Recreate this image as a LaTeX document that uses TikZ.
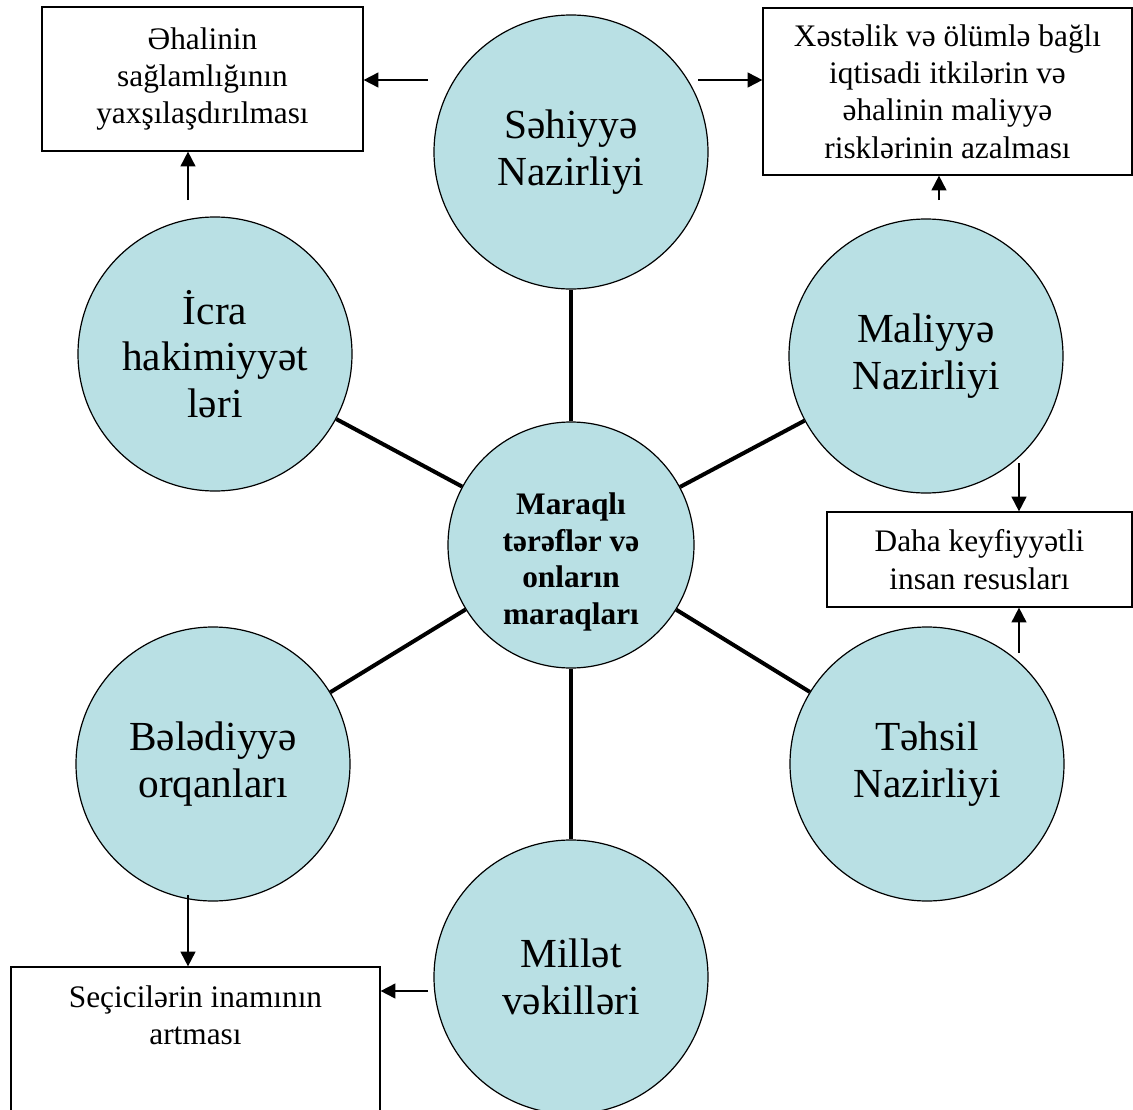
\documentclass[tikz,border=0pt]{standalone}
\usepackage{fontspec}
\setmainfont{Liberation Serif}
\usepackage{xcolor}
\usetikzlibrary{arrows.meta}
\definecolor{actorfill}{HTML}{B9E0E4}

\begin{document}
\begin{tikzpicture}[
  x=0.75pt,y=-0.75pt,
  actor/.style={circle,draw,line width=0.9pt,fill=actorfill,minimum size=205.5pt,inner sep=0pt,align=center,font=\fontsize{31}{35}\selectfont},
  hub/.style={actor,minimum size=184.5pt,font=\fontsize{23.5}{27.5}\selectfont\bfseries},
  goal/.style={draw,line width=0.9pt,align=center,inner sep=0pt,font=\fontsize{23.5}{28}\selectfont},
  spoke/.style={line width=3pt},
  arrow/.style={-{Triangle[length=11pt,width=11pt]},line width=1.4pt}
]
\useasboundingbox (0,0) rectangle (1133,1110);
\clip (0,0) rectangle (1133,1110);
% circles
\node[hub] (maraq) at (571,545) {\raisebox{-19pt}[0pt][0pt]{\begin{tabular}{@{}c@{}}Maraqlı\\tərəflər və\\onların\\maraqları\end{tabular}}};
\node[actor] (sehiyye) at (571,152) {Səhiyyə\\Nazirliyi};
\node[actor] (maliyye) at (926,356) {Maliyyə\\Nazirliyi};
\node[actor] (tehsil) at (927,764) {Təhsil\\Nazirliyi};
\node[actor] (millet) at (571,977) {Millət\\vəkilləri};
\node[actor] (belediyye) at (213,764) {Bələdiyyə\\orqanları};
\node[actor] (icra) at (215,354) {İcra\\hakimiyyət\\ləri};
% boxes
\node[goal,minimum width=240.75pt,minimum height=108pt] (ehali) at (202.5,79) {Əhalinin\\sağlamlığının\\yaxşılaşdırılması};
\node[goal,minimum width=276.75pt,minimum height=125.25pt] (itki) at (947.5,91.5) {Xəstəlik və ölümlə bağlı\\iqtisadi itkilərin və\\əhalinin maliyyə\\risklərinin azalması};
\node[goal,minimum width=228.75pt,minimum height=71.25pt] (resurs) at (979.5,559.5) {Daha keyfiyyətli\\insan resusları};
\node[goal,minimum width=276.75pt,minimum height=120pt] (secici) at (195.5,1047) {};
\node[goal,draw=none,anchor=north] (secicitext) at (195.5,985) {Seçicilərin inamının\\artması};
% spokes
\foreach \n in {sehiyye,maliyye,tehsil,millet,belediyye,icra}
  \draw[spoke] (maraq) -- (\n);
% arrows
\coordinate (sL) at (428,80);
\coordinate (sR) at (698,80);
\coordinate (iU) at (188,200);
\coordinate (mU) at (939,200);
\coordinate (mD) at (1019,463);
\coordinate (tU) at (1019,653);
\coordinate (bD) at (188,895);
\coordinate (vL) at (428,991);
\draw[arrow] (sL) -- (sL -| ehali.east);
\draw[arrow] (sR) -- (sR -| itki.west);
\draw[arrow] (iU) -- (iU |- ehali.south);
\draw[arrow] (mU) -- (mU |- itki.south);
\draw[arrow] (mD) -- (mD |- resurs.north);
\draw[arrow] (tU) -- (tU |- resurs.south);
\draw[arrow] (bD) -- (bD |- secici.north);
\draw[arrow] (vL) -- (vL -| secici.east);
\end{tikzpicture}
\end{document}
